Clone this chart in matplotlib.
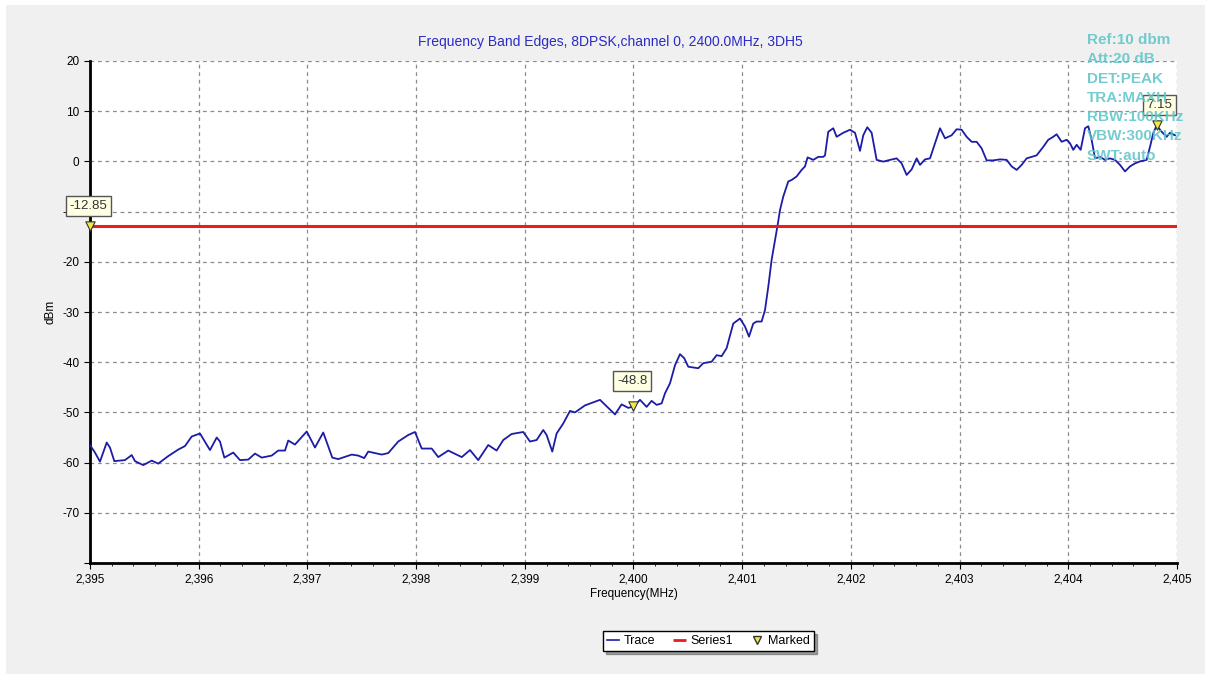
import numpy as np
import matplotlib
matplotlib.use('Agg')
import matplotlib.pyplot as plt
from matplotlib.lines import Line2D
from matplotlib.patches import Rectangle
from matplotlib.ticker import FuncFormatter, MultipleLocator

plt.rcParams['font.family'] = ['Liberation Sans', 'DejaVu Sans']

# trace (MHz, dBm)
freq = [2395.000, 2395.046, 2395.092, 2395.154, 2395.184, 2395.224, 2395.322, 2395.384, 2395.414,
        2395.490, 2395.568, 2395.628, 2395.720, 2395.812, 2395.874, 2395.936, 2396.012, 2396.104,
        2396.166, 2396.196, 2396.236, 2396.318, 2396.380, 2396.456, 2396.518, 2396.580, 2396.672,
        2396.732, 2396.794, 2396.824, 2396.886, 2396.994, 2397.070, 2397.146, 2397.229, 2397.284,
        2397.408, 2397.468, 2397.523, 2397.560, 2397.622, 2397.684, 2397.744, 2397.836, 2397.928,
        2397.990, 2398.052, 2398.144, 2398.204, 2398.296, 2398.420, 2398.496, 2398.572, 2398.664,
        2398.741, 2398.802, 2398.879, 2398.986, 2399.048, 2399.109, 2399.170, 2399.201, 2399.253,
        2399.293, 2399.354, 2399.416, 2399.462, 2399.554, 2399.692, 2399.768, 2399.830, 2399.891,
        2399.952, 2400.000, 2400.060, 2400.121, 2400.167, 2400.213, 2400.259, 2400.290, 2400.336,
        2400.382, 2400.428, 2400.467, 2400.504, 2400.596, 2400.642, 2400.719, 2400.765, 2400.811,
        2400.857, 2400.918, 2400.980, 2401.026, 2401.063, 2401.102, 2401.133, 2401.179, 2401.210,
        2401.240, 2401.271, 2401.302, 2401.326, 2401.348, 2401.378, 2401.424, 2401.455, 2401.501,
        2401.547, 2401.578, 2401.602, 2401.654, 2401.700, 2401.746, 2401.762, 2401.792, 2401.838,
        2401.869, 2401.930, 2401.992, 2402.038, 2402.084, 2402.114, 2402.151, 2402.191, 2402.237,
        2402.298, 2402.360, 2402.421, 2402.467, 2402.513, 2402.559, 2402.605, 2402.636, 2402.682,
        2402.728, 2402.774, 2402.820, 2402.866, 2402.927, 2402.973, 2403.019, 2403.065, 2403.111,
        2403.157, 2403.203, 2403.249, 2403.310, 2403.372, 2403.433, 2403.479, 2403.525, 2403.571,
        2403.617, 2403.663, 2403.709, 2403.770, 2403.816, 2403.862, 2403.893, 2403.939, 2403.985,
        2404.016, 2404.046, 2404.077, 2404.114, 2404.154, 2404.184, 2404.215, 2404.246, 2404.292,
        2404.338, 2404.384, 2404.430, 2404.476, 2404.522, 2404.568, 2404.614, 2404.660, 2404.721,
        2404.752, 2404.783, 2404.813, 2404.859, 2404.905, 2404.936, 2404.982]
level = [-56.5, -58.0, -59.8, -56.0, -57.0, -59.7, -59.5, -58.5, -59.7,
         -60.5, -59.6, -60.2, -58.7, -57.4, -56.7, -54.8, -54.2, -57.5,
         -55.0, -55.8, -59.0, -58.0, -59.5, -59.4, -58.2, -59.0, -58.6,
         -57.6, -57.6, -55.6, -56.4, -53.8, -57.0, -54.0, -59.0, -59.3,
         -58.4, -58.6, -59.1, -57.8, -58.1, -58.4, -58.1, -55.8, -54.5,
         -53.9, -57.2, -57.2, -58.9, -57.6, -58.9, -57.5, -59.5, -56.5,
         -57.6, -55.5, -54.3, -53.9, -55.8, -55.5, -53.5, -54.5, -57.8,
         -54.2, -52.2, -49.7, -50.0, -48.6, -47.5, -49.1, -50.4, -48.4,
         -49.1, -48.8, -47.5, -48.9, -47.7, -48.5, -48.2, -46.2, -44.2,
         -40.6, -38.4, -39.2, -40.9, -41.2, -40.2, -39.9, -38.6, -38.8,
         -37.2, -32.3, -31.3, -32.9, -34.9, -32.3, -31.9, -31.9, -29.6,
         -25.0, -19.6, -15.7, -12.7, -9.7, -7.0, -4.0, -3.7, -3.0,
         -1.7, -1.0, 0.8, 0.3, 0.9, 0.9, 1.2, 5.9, 6.6,
         4.9, 5.7, 6.3, 5.7, 2.1, 5.2, 6.8, 5.7, 0.3,
         -0.05, 0.3, 0.6, -0.4, -2.7, -1.6, 0.6, -0.7, 0.4,
         0.6, 3.6, 6.6, 4.6, 5.2, 6.4, 6.3, 4.9, 3.9,
         3.9, 2.6, 0.2, 0.2, 0.4, 0.3, -1.0, -1.7, -0.7,
         0.6, 0.9, 1.2, 2.9, 4.3, 4.9, 5.4, 3.9, 4.3,
         3.6, 2.3, 3.3, 2.3, 6.6, 7.0, 4.3, 0.6, 0.9,
         0.3, 0.6, 0.3, -0.7, -2.0, -1.0, -0.4, 0.0, 0.3,
         2.9, 5.7, 7.15, 5.9, 4.9, 5.7, 5.2]

limit_level = -12.85
marker_freq = [2395.0, 2400.0, 2404.813]
marker_level = [-12.85, -48.8, 7.15]
marker_text = ['-12.85', '-48.8', '7.15']

info_lines = ['Ref:10 dbm', 'Att:20 dB', 'DET:PEAK', 'TRA:MAXH',
              'RBW:100KHz', 'VBW:300KHz', 'SWT:auto']

fig = plt.figure(figsize=(12.11, 6.79), dpi=100)
fig.patch.set_facecolor('white')
fig.patches.append(Rectangle((0.005, 0.008), 0.99, 0.984, transform=fig.transFigure,
                             facecolor='#f0f0f0', edgecolor='none', zorder=-10))
ax = fig.add_axes([0.0743, 0.1708, 0.8976, 0.7394])
ax.set_facecolor('white')

ax.plot(freq, level, color='#1c1ca8', lw=1.3, zorder=3)
ax.axhline(limit_level, color='#e61e1e', lw=2.2, zorder=4)
ax.scatter(marker_freq, marker_level, marker='v', s=45, facecolor='#f4e842',
           edgecolor='#333333', linewidth=0.8, zorder=6, clip_on=False)

offsets = [(-1, 14), (-1, 18), (2, 15)]
for fx, lv, txt, off in zip(marker_freq, marker_level, marker_text, offsets):
    ax.annotate(txt, (fx, lv), xytext=off, textcoords='offset points', ha='center', va='center',
                fontsize=9.5, color='#333333', zorder=7, annotation_clip=False,
                bbox=dict(boxstyle='square,pad=0.3', facecolor='#ffffe4', edgecolor='#555555', lw=1))

ax.set_xlim(2395, 2405)
ax.set_ylim(-80, 20)
ax.xaxis.set_major_locator(MultipleLocator(1))
ax.xaxis.set_minor_locator(MultipleLocator(0.2))
ax.yaxis.set_major_locator(MultipleLocator(10))
ax.xaxis.set_major_formatter(FuncFormatter(lambda v, p: f'{v:,.0f}'))
ax.yaxis.set_major_formatter(FuncFormatter(lambda v, p: '' if v <= -80 else f'{v:.0f}'))
ax.tick_params(axis='both', labelsize=8.5, length=4, width=0.8, colors='black')
ax.tick_params(axis='x', which='minor', length=2, width=0.6)
ax.grid(True, which='major', color='#8c8c8c', linestyle=(0, (3, 3)), lw=0.9)

for s in ['top', 'right']:
    ax.spines[s].set_visible(False)
for s in ['left', 'bottom']:
    ax.spines[s].set_linewidth(2)

ax.set_xlabel('Frequency(MHz)', fontsize=8.5, labelpad=2)
ax.set_ylabel('dBm', fontsize=8.5, labelpad=4)

fig.text(0.504, 0.938, 'Frequency Band Edges, 8DPSK,channel 0, 2400.0MHz, 3DH5',
         ha='center', va='center', fontsize=10, color='#2b2bc4')

for i, line in enumerate(info_lines):
    fig.text(0.8976, 1 - (40 + i * 19.3) / 679, line, ha='left', va='center',
             fontsize=11, fontweight='bold', color='#5cc4c8', alpha=0.85, zorder=10)

handles = [Line2D([], [], color='#1c1ca8', lw=1.2),
           Line2D([], [], color='#e61e1e', lw=2, linestyle='-.'),
           Line2D([], [], color='#f4e842', marker='v', markeredgecolor='#333333',
                  linestyle='none', markersize=6)]
fig.legend(handles, ['Trace', 'Series1', 'Marked'], loc='center', bbox_to_anchor=(0.585, 0.056),
           ncol=3, fontsize=9, frameon=True, fancybox=False, shadow=True, edgecolor='black',
           handlelength=1.0, handletextpad=0.4, columnspacing=1.4, borderpad=0.3)

fig.savefig('out.png', dpi=100)
